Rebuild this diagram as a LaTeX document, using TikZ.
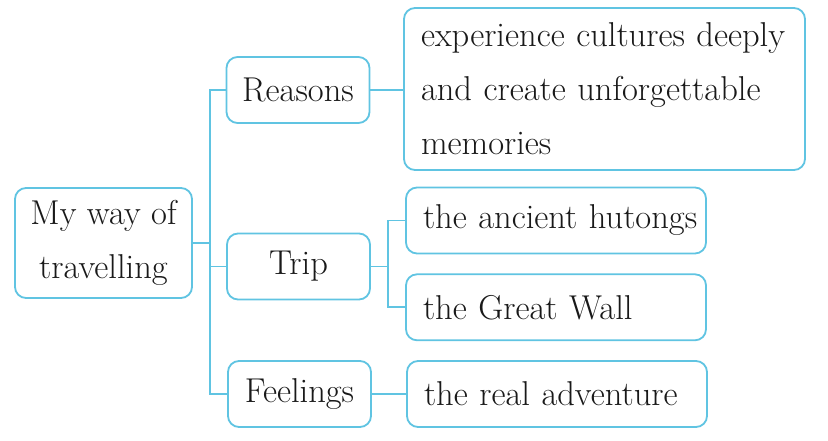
\documentclass[tikz,border=0pt]{standalone}
\usetikzlibrary{positioning}

\definecolor{mapline}{RGB}{96,196,226}
\definecolor{maptext}{RGB}{25,25,25}

\begin{document}
\begin{tikzpicture}[
    x=1pt, y=-1pt,
    font=\fontsize{34.5}{54}\selectfont,
    topic/.style={draw=mapline, line width=1.8pt, fill=white, text=maptext,
      rounded corners=11pt, align=center, inner sep=0pt,
      minimum width=177pt, minimum height=110pt},
    branch/.style={topic, minimum width=143pt, minimum height=66pt},
    leaf/.style={topic, align=left, inner xsep=17pt, inner ysep=0pt,
      text width=266pt, minimum width=300pt, minimum height=66pt},
    detail/.style={leaf, text width=367pt, minimum width=401pt, minimum height=162pt},
    link/.style={draw=mapline, line width=1.8pt}
  ]
  \useasboundingbox (0,0) rectangle (828,440);

  \node[topic] (root) at (103.5,243) {My way of\\travelling};

  \node[branch] (reasons) at (298,90) {Reasons};
  \node[branch] (trip) at (298.5,266.5) {Trip};
  \node[branch] (feelings) at (299.5,394) {Feelings};

  \node[detail] (why) at (604.5,89) {experience cultures deeply\\and create unforgettable\\memories};
  \node[leaf] (hutongs) at (556,220.5) {\mbox{the ancient hutongs}};
  \node[leaf, below=19pt of hutongs] (wall) {the Great Wall};
  \node[leaf] (adventure) at (557,394) {the real adventure};

  % trunk and stubs
  \coordinate (tk) at (210,0);
  \coordinate (tj) at (388,0);
  \draw[link] (reasons.west) -| (tk |- feelings.west) -- (feelings.west);
  \draw[link] (root.east) -- (tk |- root.east);
  \draw[link] (trip.west) -- (tk |- trip.west);

  \draw[link] (reasons.east) -- (why.west |- reasons.east);
  \draw[link] (hutongs.west) -| (tj |- wall.west) -- (wall.west);
  \draw[link] (trip.east) -- (tj |- trip.east);
  \draw[link] (feelings.east) -- (adventure.west);
\end{tikzpicture}
\end{document}
